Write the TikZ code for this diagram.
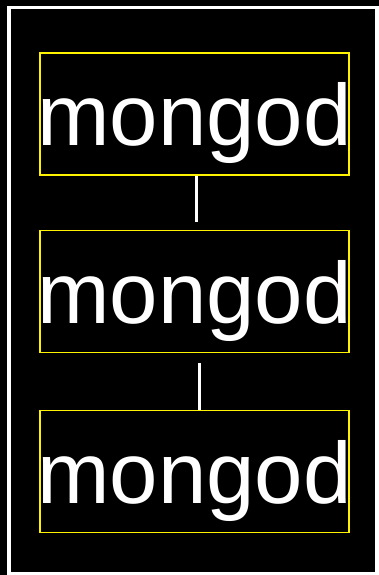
\documentclass[tikz,border=0pt]{standalone}
\usepackage{fontspec}
\setmainfont{Liberation Sans}
\begin{document}
\begin{tikzpicture}[x=1pt,y=-1pt,
  mbox/.style={draw=yellow, line width=1.5pt, rectangle, inner sep=0pt,
    minimum width=309pt, minimum height=122pt, text=white,
    font=\fontsize{87}{87}\selectfont, text height=93pt, text depth=29pt},
  link/.style={draw=white, line width=3pt}]
\useasboundingbox (0,0) rectangle (379,575);
\fill[black] (0,0) rectangle (379,575);
\draw[white, line width=3.8pt] (9,7.5) rectangle (377,574);
\node[mbox] (b1) at (194.5,114) {\makebox[309pt][c]{mongod}};
\node[mbox] (b2) at (194.5,291.5) {\makebox[309pt][c]{mongod}};
\node[mbox] (b3) at (194.5,471.5) {\makebox[309pt][c]{mongod}};
\draw[link] ([xshift=1.5pt]b1.south) -- ([xshift=1.5pt,yshift=8pt]b2.north);
\draw[link] ([xshift=4.5pt,yshift=-10pt]b2.south) -- ([xshift=4.5pt]b3.north);
\end{tikzpicture}
\end{document}
